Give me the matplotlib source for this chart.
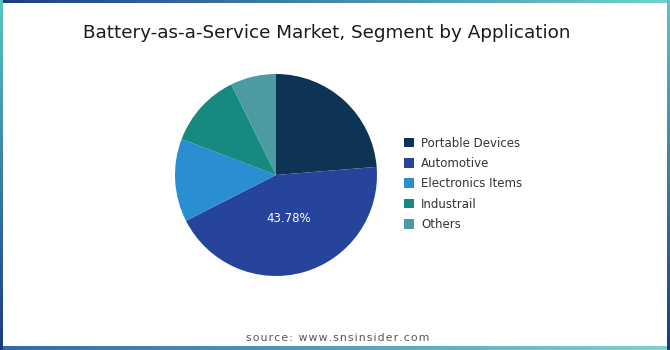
import matplotlib.pyplot as plt
import numpy as np
from matplotlib.patches import Patch

# application segments and their shares (%)
segments = ['Portable Devices', 'Automotive', 'Electronics Items', 'Industrail', 'Others']
shares = [23.72, 43.78, 13.3, 11.9, 7.3]
colors = ['#0e3455', '#27449c', '#2a8fd2', '#168a80', '#4c9ba3']

fig = plt.figure(figsize=(6.7, 3.5), dpi=100)
fig.patch.set_facecolor('white')

# gradient frame around the figure
frame = fig.add_axes([0, 0, 1, 1], zorder=-10)
frame.set_xlim(0, 670)
frame.set_ylim(350, 0)
frame.axis('off')

def hgrad(c1, c2, n=256):
    a = np.array(plt.matplotlib.colors.to_rgb(c1))
    b = np.array(plt.matplotlib.colors.to_rgb(c2))
    t = np.linspace(0, 1, n)[:, None]
    return (a + (b - a) * t)[None, :, :]

frame.imshow(hgrad('#1d3f80', '#70d2d0'), extent=[0, 670, 3, 0], aspect='auto')
frame.imshow(hgrad('#2a6cb0', '#7ad6cc'), extent=[0, 670, 350, 346], aspect='auto')
frame.imshow(np.transpose(hgrad('#5cc4c4', '#1c3a80'), (1, 0, 2)), extent=[0, 3, 350, 0], aspect='auto')
frame.imshow(np.transpose(hgrad('#5cc4c4', '#1c3a80'), (1, 0, 2)), extent=[667, 670, 350, 0], aspect='auto')

fig.text(0.487, 0.905, 'Battery-as-a-Service Market, Segment by Application',
         ha='center', va='center', fontsize=13.2, color='#1a1a1a')

ax = fig.add_axes([175 / 670, 74 / 350, 202 / 670, 202 / 350])
wedges, texts, autotexts = ax.pie(shares, colors=colors, startangle=90, counterclock=False,
                                  autopct=lambda p: f'{p:.2f}%' if p > 40 else '',
                                  pctdistance=0.45, textprops={'color': 'white', 'fontsize': 8.5})
ax.set_xlim(-1, 1)
ax.set_ylim(-1, 1)
ax.set_aspect('equal')

handles = [Patch(facecolor=c, edgecolor='none') for c in colors]
fig.legend(handles, segments, loc='upper left', bbox_to_anchor=(393 / 670, 1 - 126 / 350),
           frameon=False, fontsize=8.5, handlelength=0.9, handleheight=0.9,
           handletextpad=0.6, labelspacing=0.62, labelcolor='#333333')

source = '\u200a'.join('source: www.snsinsider.com')
fig.text(338 / 670, 1 - 338 / 350, source, ha='center', va='center', fontsize=7.8, color='#555555')

fig.savefig('out.png', dpi=100)
